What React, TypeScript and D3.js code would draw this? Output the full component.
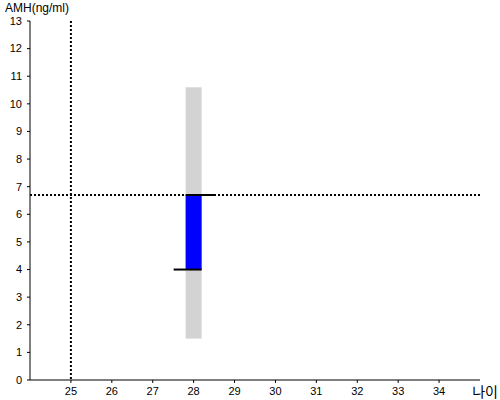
import React from "react";
import * as d3 from "d3";

const ageTicks = [25, 26, 27, 28, 29, 30, 31, 32, 33, 34];
const amhTicks = [0, 1, 2, 3, 4, 5, 6, 7, 8, 9, 10, 11, 12, 13];
const refAge = 25;
const refAmh = 6.7;
const rangeAges = [28];
const rangeLow = [1.5];
const rangeHigh = [10.6];
const valueLow = [4.0];
const valueHigh = [6.7];

const W = 500;
const H = 400;

export default function App() {
  const x = d3.scaleLinear().domain([24, 35]).range([30, 480]);
  const y = d3.scaleLinear().domain([0, 13]).range([380, 21]);
  const bw = 16;
  const font = "Liberation Sans, Arial, sans-serif";

  return (
    <svg
      width={W}
      height={H}
      style={{ position: "absolute", left: 0, top: 0 }}
      fontFamily={font}
    >
      <rect x={0} y={0} width={W} height={H} fill="#fff" />
      {rangeAges.map((a, i) => (
        <rect
          key={"g" + i}
          x={x(a) - bw / 2}
          y={y(rangeHigh[i])}
          width={bw}
          height={y(rangeLow[i]) - y(rangeHigh[i])}
          fill="#d3d3d3"
        />
      ))}
      {rangeAges.map((a, i) => (
        <rect
          key={"b" + i}
          x={x(a) - bw / 2}
          y={y(valueHigh[i])}
          width={bw}
          height={y(valueLow[i]) - y(valueHigh[i])}
          fill="#0000ff"
        />
      ))}
      <line
        x1={x(refAge)}
        x2={x(refAge)}
        y1={y(13)}
        y2={y(0)}
        stroke="#000"
        strokeWidth={2}
        strokeDasharray="2,2"
      />
      <line
        x1={x(24)}
        x2={x(35)}
        y1={y(refAmh)}
        y2={y(refAmh)}
        stroke="#000"
        strokeWidth={2}
        strokeDasharray="2,2"
      />
      {rangeAges.map((a, i) => (
        <g key={"w" + i}>
          <line
            x1={x(a) - bw / 2}
            x2={x(a) + bw / 2 + 13}
            y1={y(valueHigh[i])}
            y2={y(valueHigh[i])}
            stroke="#000"
            strokeWidth={2}
          />
          <line
            x1={x(a) - bw / 2 - 12}
            x2={x(a) + bw / 2}
            y1={y(valueLow[i])}
            y2={y(valueLow[i])}
            stroke="#000"
            strokeWidth={2}
          />
        </g>
      ))}
      <line x1={x(24)} x2={x(24)} y1={y(13)} y2={y(0)} stroke="#000" strokeWidth={1} />
      {amhTicks.map((t) => (
        <g key={"y" + t}>
          <line x1={x(24) - 3} x2={x(24)} y1={y(t)} y2={y(t)} stroke="#000" />
          <text
            x={x(24) - 8}
            y={y(t)}
            dy="0.35em"
            textAnchor="end"
            fontSize={11}
            fill="#000"
          >
            {t}
          </text>
        </g>
      ))}
      <line x1={x(24)} x2={x(35)} y1={y(0)} y2={y(0)} stroke="#000" strokeWidth={1} />
      {ageTicks.map((t) => (
        <g key={"x" + t}>
          <line x1={x(t)} x2={x(t)} y1={y(0)} y2={y(0) + 3} stroke="#000" />
          <text x={x(t)} y={y(0) + 15} textAnchor="middle" fontSize={11} fill="#000">
            {t}
          </text>
        </g>
      ))}
      <text x={5} y={12} fontSize={12} fill="#000">
        AMH(ng/ml)
      </text>
      <text
        x={498}
        y={397}
        fontSize={14}
        textAnchor="end"
        fill="#000"
        fontFamily="Noto Sans CJK KR, sans-serif"
      >
        나이
      </text>
    </svg>
  );
}
